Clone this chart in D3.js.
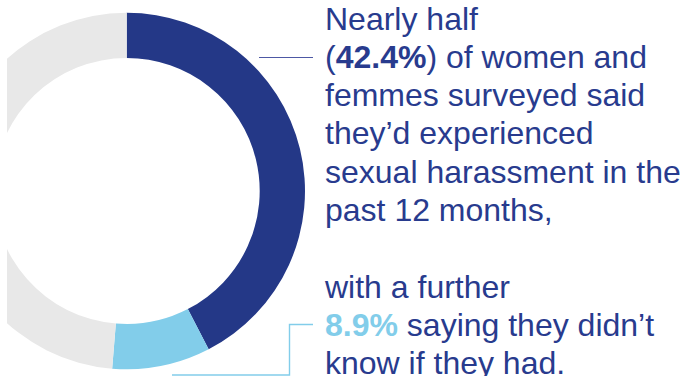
<!DOCTYPE html>
<html>
<head>
<meta charset="utf-8">
<script src="https://cdn.jsdelivr.net/npm/d3@7"></script>
<style>
  html, body { margin: 0; padding: 0; background: #ffffff; }
  svg { display: block; }
</style>
</head>
<body>
<svg id="chart" width="685" height="376"></svg>
<script>
// Survey shares (percent of respondents)
const categories = ["Experienced harassment", "Didn't know", "Did not experience"];
const shares = [42.4, 8.9, 48.7];
const colors = ["#243887", "#82cdea", "#e8e8e8"];

// Callout text, one entry per line; bold runs flagged with a colour key
const calloutLines = [
  [{ t: "Nearly half" }],
  [{ t: "(" }, { t: "42.4%", bold: true }, { t: ") of women and" }],
  [{ t: "femmes surveyed said" }],
  [{ t: "they\u2019d experienced" }],
  [{ t: "sexual harassment in the" }],
  [{ t: "past 12 months," }],
  [],
  [{ t: "with a further" }],
  [{ t: "8.9%", bold: true, light: true }, { t: " saying they didn\u2019t" }],
  [{ t: "know if they had." }]
];

const svg = d3.select("#chart");
const cx = 126.7, cy = 191;
const outerR = 178.3, innerR = 133;

svg.append("defs").append("clipPath").attr("id", "plotClip")
  .append("rect").attr("x", 7).attr("y", 0).attr("width", 678).attr("height", 376);

const pie = d3.pie().sort(null).value(d => d)
  .startAngle(0).endAngle(2 * Math.PI);
const arc = d3.arc().innerRadius(innerR).outerRadius(outerR);

svg.append("g")
  .attr("clip-path", "url(#plotClip)")
  .append("g")
  .attr("transform", `translate(${cx},${cy})`)
  .selectAll("path")
  .data(pie(shares))
  .join("path")
  .attr("d", arc)
  .attr("fill", (d, i) => colors[i]);

// Leader lines
svg.append("line")
  .attr("x1", 259).attr("x2", 313).attr("y1", 57.5).attr("y2", 57.5)
  .attr("stroke", "#4d58a4").attr("stroke-width", 1.2);

svg.append("polyline")
  .attr("points", "172,375 289.5,375 289.5,324.5 313,324.5")
  .attr("fill", "none")
  .attr("stroke", "#82cdea").attr("stroke-width", 1.4);

// Callout text
const textX = 325, firstBaseline = 29.5, lineStep = 38.3;
const text = svg.append("g")
  .attr("font-family", "'Liberation Sans', Arial, Helvetica, sans-serif")
  .attr("font-size", 32);

calloutLines.forEach((runs, i) => {
  if (!runs.length) return;
  const line = text.append("text")
    .attr("x", textX)
    .attr("y", firstBaseline + i * lineStep)
    .attr("fill", "#283b8e");
  runs.forEach(r => {
    line.append("tspan")
      .attr("font-weight", r.bold ? "bold" : "normal")
      .attr("fill", r.light ? "#82cdea" : "#283b8e")
      .text(r.t);
  });
});
</script>
</body>
</html>
